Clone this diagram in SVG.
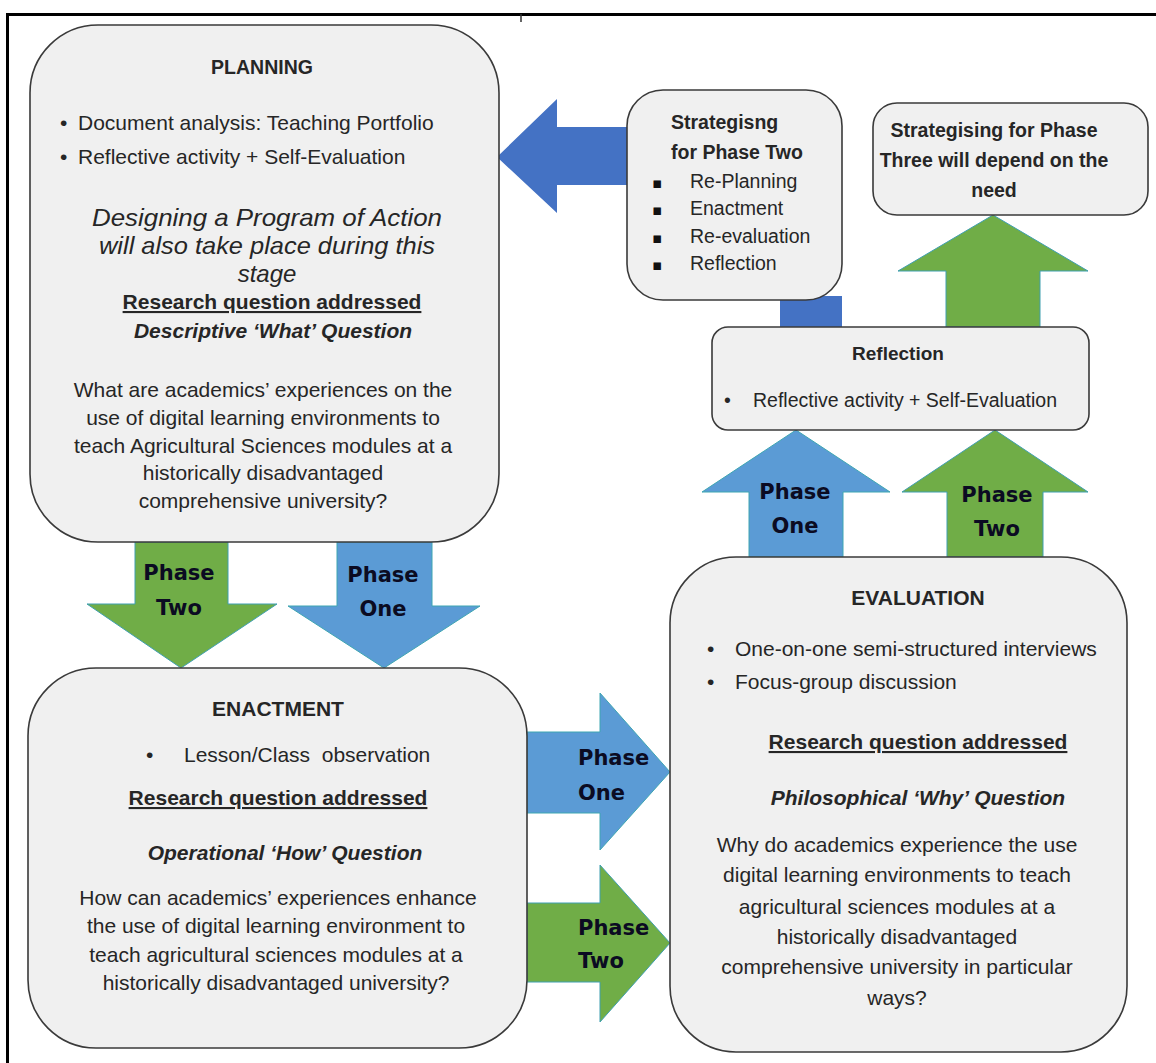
<svg xmlns="http://www.w3.org/2000/svg" width="1156" height="1063" viewBox="0 0 1156 1063">
<style>
.box{fill:#f0f0f0;stroke:#3a3a3a;stroke-width:1.6}
.t{font-family:"Liberation Sans",Arial,sans-serif;fill:#262626}
.b{font-weight:bold}
.i{font-style:italic}
.c{text-anchor:middle}
.u{text-decoration:underline}
.ph{font-family:"DejaVu Sans",sans-serif;font-weight:bold;font-size:21px;fill:#0b0b22}
.dk{fill:#4472c4}
.lb{fill:#5b9bd5;stroke:#3fa6b2;stroke-width:1}
.gr{fill:#70ad47;stroke:#3f9fb0;stroke-width:1}
.sq{font-family:"DejaVu Sans",sans-serif;font-size:15px;fill:#111}
</style>
<rect width="1156" height="1063" fill="#ffffff"/>
<path d="M7.5,1063 V14.5 H1156" fill="none" stroke="#000" stroke-width="3"/>
<line x1="521" y1="14" x2="521" y2="22" stroke="#333" stroke-width="1.5"/>

<g id="connectors">
  <polygon class="dk" points="497,157 557,99 557,127 628,127 628,185 557,185 557,213"/>
  <rect class="dk" x="780" y="296" width="62" height="32"/>
  <polygon class="gr" points="993,215 1088,271 1040,271 1040,327 946,327 946,271 898,271"/>
  <polygon class="lb" points="796,430 890,492 843,492 843,557 749,557 749,492 702,492"/>
  <polygon class="gr" points="995,430 1088,492 1043,492 1043,557 947,557 947,492 902,492"/>
  <polygon class="gr" points="135,542 228,542 228,604 277,604 181,668 87,604 135,604"/>
  <polygon class="lb" points="337,542 432,542 432,606 480,606 384,668 288,606 337,606"/>
  <polygon class="lb" points="527,732 600,732 600,693 670,772 600,850 600,813 527,813"/>
  <polygon class="gr" points="527,903 600,903 600,865 670,943 600,1022 600,982 527,982"/>
  <text class="ph" text-anchor="middle" x="179" y="580">Phase</text>
  <text class="ph" text-anchor="middle" x="179" y="615">Two</text>
  <text class="ph" text-anchor="middle" x="383" y="582">Phase</text>
  <text class="ph" text-anchor="middle" x="383" y="616">One</text>
  <text class="ph" text-anchor="middle" x="795" y="499">Phase</text>
  <text class="ph" text-anchor="middle" x="795" y="533">One</text>
  <text class="ph" text-anchor="middle" x="997" y="502">Phase</text>
  <text class="ph" text-anchor="middle" x="997" y="536">Two</text>
  <text class="ph" x="578" y="765">Phase</text>
  <text class="ph" x="578" y="800">One</text>
  <text class="ph" x="578" y="935">Phase</text>
  <text class="ph" x="578" y="968">Two</text>
</g>

<g id="planning">
  <rect class="box" x="30" y="25" width="469" height="517" rx="68" ry="68"/>
  <text class="t b c" x="262" y="74" font-size="19.5">PLANNING</text>
  <text class="t" x="60" y="130" font-size="21">•</text>
  <text class="t" x="78" y="130" font-size="21">Document analysis: Teaching Portfolio</text>
  <text class="t" x="60" y="164" font-size="21">•</text>
  <text class="t" x="78" y="164" font-size="21">Reflective activity + Self-Evaluation</text>
  <text class="t i c" x="267" y="226" font-size="24" textLength="350" lengthAdjust="spacingAndGlyphs">Designing a Program of Action</text>
  <text class="t i c" x="267" y="254" font-size="24" textLength="336" lengthAdjust="spacingAndGlyphs">will also take place during this</text>
  <text class="t i c" x="267" y="282" font-size="24">stage</text>
  <text class="t b c u" x="272" y="309" font-size="21">Research question addressed</text>
  <text class="t b i c" x="273" y="338" font-size="21">Descriptive ‘What’ Question</text>
  <text class="t c" x="263" y="397" font-size="21">What are academics’ experiences on the</text>
  <text class="t c" x="263" y="425" font-size="21">use of digital learning environments to</text>
  <text class="t c" x="263" y="453" font-size="21">teach Agricultural Sciences modules at a</text>
  <text class="t c" x="263" y="480" font-size="21">historically disadvantaged</text>
  <text class="t c" x="263" y="508" font-size="21">comprehensive university?</text>
</g>

<g id="strategising-phase-two">
  <rect class="box" x="627" y="90" width="215" height="210" rx="36" ry="36"/>
  <text class="t b" x="671" y="129" font-size="19.5">Strategisng</text>
  <text class="t b" x="671" y="159" font-size="19.5">for Phase Two</text>
  <text class="sq" x="652" y="188">▪</text>
  <text class="t" x="690" y="188" font-size="19.5">Re-Planning</text>
  <text class="sq" x="652" y="215">▪</text>
  <text class="t" x="690" y="215" font-size="19.5">Enactment</text>
  <text class="sq" x="652" y="243">▪</text>
  <text class="t" x="690" y="243" font-size="19.5">Re-evaluation</text>
  <text class="sq" x="652" y="270">▪</text>
  <text class="t" x="690" y="270" font-size="19.5">Reflection</text>
</g>

<g id="strategising-phase-three">
  <rect class="box" x="873" y="103" width="275" height="112" rx="24" ry="24"/>
  <text class="t b c" x="994" y="137" font-size="19.5">Strategising for Phase</text>
  <text class="t b c" x="994" y="167" font-size="19.5">Three will depend on the</text>
  <text class="t b c" x="994" y="197" font-size="19.5">need</text>
</g>

<g id="reflection">
  <rect class="box" x="712" y="327" width="377" height="103" rx="16" ry="16"/>
  <text class="t b c" x="898" y="360" font-size="19">Reflection</text>
  <text class="t" x="724" y="407" font-size="19.5">•</text>
  <text class="t" x="753" y="407" font-size="19.5">Reflective activity + Self-Evaluation</text>
</g>

<g id="enactment">
  <rect class="box" x="28" y="668" width="499" height="380" rx="68" ry="68"/>
  <text class="t b c" x="278" y="716" font-size="21">ENACTMENT</text>
  <text class="t" x="146" y="762" font-size="21">•</text>
  <text class="t" x="184" y="762" font-size="21" xml:space="preserve">Lesson/Class  observation</text>
  <text class="t b c u" x="278" y="805" font-size="21">Research question addressed</text>
  <text class="t b i c" x="285" y="860" font-size="21">Operational ‘How’ Question</text>
  <text class="t c" x="278" y="905" font-size="21">How can academics’ experiences enhance</text>
  <text class="t c" x="276" y="933" font-size="21">the use of digital learning environment to</text>
  <text class="t c" x="276" y="962" font-size="21">teach agricultural sciences modules at a</text>
  <text class="t c" x="276" y="990" font-size="21">historically disadvantaged university?</text>
</g>

<g id="evaluation">
  <rect class="box" x="670" y="557" width="457" height="495" rx="66" ry="66"/>
  <text class="t b c" x="918" y="605" font-size="21">EVALUATION</text>
  <text class="t" x="707" y="656" font-size="21">•</text>
  <text class="t" x="735" y="656" font-size="21">One-on-one semi-structured interviews</text>
  <text class="t" x="707" y="689" font-size="21">•</text>
  <text class="t" x="735" y="689" font-size="21">Focus-group discussion</text>
  <text class="t b c u" x="918" y="749" font-size="21">Research question addressed</text>
  <text class="t b i c" x="918" y="805" font-size="21">Philosophical ‘Why’ Question</text>
  <text class="t c" x="897" y="852" font-size="21">Why do academics experience the use</text>
  <text class="t c" x="897" y="882" font-size="21">digital learning environments to teach</text>
  <text class="t c" x="897" y="914" font-size="21">agricultural sciences modules at a</text>
  <text class="t c" x="897" y="944" font-size="21">historically disadvantaged</text>
  <text class="t c" x="897" y="974" font-size="21">comprehensive university in particular</text>
  <text class="t c" x="897" y="1005" font-size="21">ways?</text>
</g>
</svg>
